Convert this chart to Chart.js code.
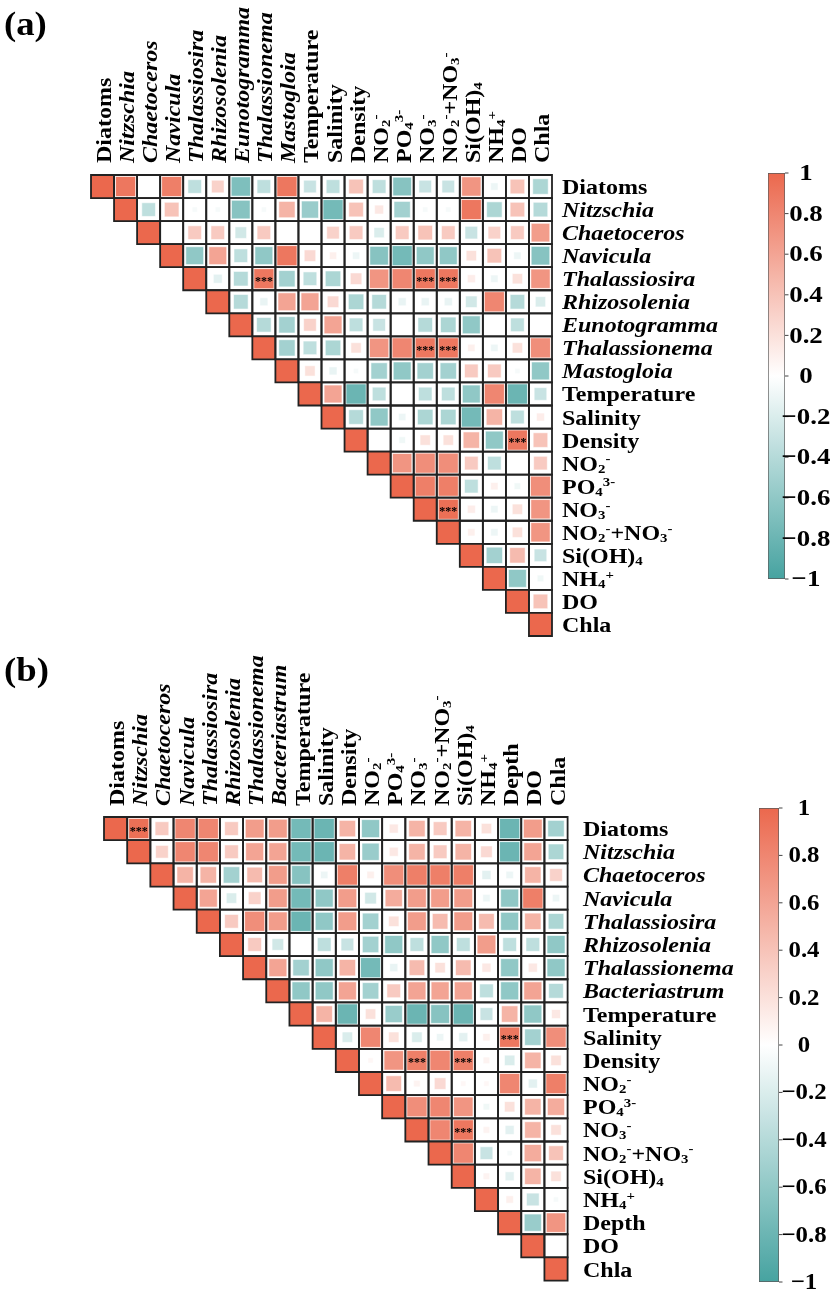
<!DOCTYPE html>
<html>
<head>
<meta charset="utf-8">
<script src="https://cdn.jsdelivr.net/npm/chart.js@4.4.1/dist/chart.umd.min.js"></script>
<style>
  html, body { margin: 0; padding: 0; background: #ffffff; }
  body { width: 837px; height: 1290px; position: relative; overflow: hidden; }
  canvas { position: absolute; }
</style>
</head>
<body>
<canvas id="heatA" width="837" height="645" style="left:0;top:0"></canvas>
<canvas id="heatB" width="837" height="645" style="left:0;top:645px"></canvas>
<canvas id="barA" width="137" height="460" style="left:700px;top:140px"></canvas>
<canvas id="barB" width="137" height="500" style="left:700px;top:790px"></canvas>
<script>
// ---------------- DATA ----------------
const labelsA = ['Diatoms','Nitzschia','Chaetoceros','Navicula','Thalassiosira','Rhizosolenia',
  'Eunotogramma','Thalassionema','Mastogloia','Temperature','Salinity','Density',
  'NO_{2}^{-}','PO_{4}^{3-}','NO_{3}^{-}','NO_{2}^{-}+NO_{3}^{-}','Si(OH)_{4}','NH_{4}^{+}','DO','Chla'];
const labelsB = ['Diatoms','Nitzschia','Chaetoceros','Navicula','Thalassiosira','Rhizosolenia',
  'Thalassionema','Bacteriastrum','Temperature','Salinity','Density',
  'NO_{2}^{-}','PO_{4}^{3-}','NO_{3}^{-}','NO_{2}^{-}+NO_{3}^{-}','Si(OH)_{4}','NH_{4}^{+}','Depth','DO','Chla'];
const genera = ['Nitzschia','Chaetoceros','Navicula','Thalassiosira','Rhizosolenia','Eunotogramma',
  'Thalassionema','Mastogloia','Bacteriastrum'];

// upper triangle, row i lists correlations for columns i..19
const corrA = [
  [1, 0.9, 0, 0.85, -0.35, 0.3, -0.7, -0.35, 0.9, -0.3, -0.35, 0.4, -0.35, -0.65, -0.3, -0.3, 0.7, -0.1, 0.4, -0.45],
  [1, -0.35, 0.4, -0.05, -0.05, -0.65, -0.05, 0.5, -0.55, -0.75, 0.4, 0.15, -0.5, -0.05, -0.05, 0.9, -0.45, 0.4, -0.4],
  [1, 0, 0.35, 0.35, -0.25, 0.35, 0, 0, 0.3, 0.35, -0.2, 0.35, 0.4, 0.35, -0.3, 0.3, 0.35, 0.65],
  [1, -0.6, 0.6, -0.35, -0.6, 0.9, 0.25, 0.1, -0.1, -0.65, -0.75, -0.6, -0.6, 0.2, 0.4, -0.1, -0.65],
  [1, -0.15, -0.4, 0.9, -0.5, -0.35, -0.45, 0.25, 0.7, 0.8, 0.9, 0.9, 0.12, -0.1, 0.2, 0.7],
  [1, -0.4, -0.12, 0.6, 0.6, 0.25, -0.45, -0.4, -0.12, -0.12, -0.12, -0.25, 0.8, -0.4, -0.2],
  [1, -0.4, -0.5, 0.3, 0.6, -0.35, -0.3, 0, -0.4, -0.45, -0.6, 0, -0.35, 0],
  [1, -0.5, -0.35, -0.45, 0.2, 0.7, 0.8, 0.9, 0.9, 0.1, -0.1, 0.2, 0.75],
  [1, 0.2, -0.12, -0.05, -0.5, -0.6, -0.5, -0.5, 0.35, 0.35, -0.05, -0.6],
  [1, 0.6, -0.8, -0.35, 0, -0.35, -0.35, -0.6, 0.8, -0.8, -0.3],
  [1, -0.4, -0.6, -0.1, -0.45, -0.45, -0.75, 0.5, -0.35, 0.12],
  [1, 0, -0.08, 0.2, 0.2, 0.5, -0.6, 0.9, 0.4],
  [1, 0.7, 0.75, 0.75, 0.35, -0.35, 0, 0.35],
  [1, 0.85, 0.85, -0.35, 0.1, -0.08, 0.75],
  [1, 0.95, 0.12, -0.1, 0.2, 0.7],
  [1, 0.1, -0.1, 0.2, 0.7],
  [1, -0.5, 0.45, -0.3],
  [1, -0.6, -0.08],
  [1, 0.4],
  [1]
];
const corrB = [
  [1, 0.95, 0.35, 0.8, 0.8, 0.35, 0.65, 0.65, -0.75, -0.8, 0.5, -0.6, 0.15, 0.5, 0.35, 0.5, 0.2, -0.8, 0.65, -0.5],
  [1, 0.3, 0.8, 0.8, 0.35, 0.6, 0.6, -0.75, -0.8, 0.5, -0.55, 0.15, 0.5, 0.35, 0.5, 0.25, -0.8, 0.6, -0.45],
  [1, 0.5, 0.5, -0.5, 0.45, 0.65, -0.65, -0.1, 0.85, 0.1, 0.75, 0.85, 0.85, 0.85, -0.15, -0.1, 0.5, 0.3],
  [1, 0.6, -0.2, 0.3, 0.65, -0.75, -0.6, 0.65, -0.25, 0.55, 0.65, 0.65, 0.65, -0.1, -0.6, 0.85, -0.1],
  [1, 0.35, 0.75, 0.65, -0.8, -0.6, 0.65, -0.5, 0.2, 0.65, 0.45, 0.65, 0.45, -0.6, 0.5, -0.45],
  [1, 0.35, -0.25, 0, -0.35, -0.3, -0.5, -0.6, -0.35, -0.6, -0.35, 0.65, -0.35, -0.35, -0.6],
  [1, 0.6, -0.5, -0.6, 0.5, -0.75, -0.12, 0.45, 0.2, 0.45, 0.15, -0.6, 0.15, -0.6],
  [1, -0.6, -0.6, 0.6, -0.5, 0.35, 0.6, 0.6, 0.6, -0.35, -0.6, 0.6, -0.4],
  [1, 0.5, -0.8, 0.2, -0.55, -0.8, -0.65, -0.8, -0.3, 0.5, -0.6, 0.15],
  [1, -0.2, 0.8, 0.2, -0.2, -0.1, -0.15, 0.1, 0.9, -0.5, 0.75],
  [1, 0.05, 0.7, 0.85, 0.8, 0.85, 0.08, -0.2, 0.5, 0.2],
  [1, 0.45, 0.08, 0.25, 0.05, 0.05, 0.8, -0.15, 0.85],
  [1, 0.75, 0.8, 0.7, -0.08, 0.2, 0.5, 0.55],
  [1, 0.8, 0.9, 0.08, -0.15, 0.5, 0.2],
  [1, 0.8, -0.3, -0.05, 0.55, 0.4],
  [1, 0.08, -0.15, 0.5, 0.2],
  [1, 0.1, -0.3, -0.05],
  [1, -0.55, 0.7],
  [1, 0],
  [1]
];
// significant pairs [row, column] marked ***
const starsA = [[4,7],[4,14],[4,15],[7,14],[7,15],[11,18],[14,15]];
const starsB = [[0,1],[9,17],[10,13],[10,15],[13,15]];

const cbTicks = [1, 0.8, 0.6, 0.4, 0.2, 0, -0.2, -0.4, -0.6, -0.8, -1];
const cbTickLabels = ['1','0.8','0.6','0.4','0.2','0','\u22120.2','\u22120.4','\u22120.6','\u22120.8','\u22121'];

// ---------------- STYLE ----------------
const FONT = '"Liberation Serif","Times New Roman",serif';
const RED = [235, 104, 77];
const TEAL = [70, 163, 160];
function colorFor(v) {
  const t = Math.min(1, Math.abs(v));
  const c = v >= 0 ? RED : TEAL;
  const r = Math.round(255 + (c[0] - 255) * t);
  const g = Math.round(255 + (c[1] - 255) * t);
  const b = Math.round(255 + (c[2] - 255) * t);
  return `rgb(${r},${g},${b})`;
}

function parseRich(s) {
  const out = []; const re = /([_^])\{([^}]*)\}/g; let last = 0, m;
  while ((m = re.exec(s))) {
    if (m.index > last) out.push({ t: s.slice(last, m.index), m: 0 });
    out.push({ t: m[2], m: m[1] === '_' ? 1 : 2 });
    last = re.lastIndex;
  }
  if (last < s.length) out.push({ t: s.slice(last), m: 0 });
  return out;
}
function drawRich(ctx, s, x, y, o) {
  const segs = parseRich(s);
  ctx.save();
  ctx.translate(x, y);
  if (o.rot) ctx.rotate(-Math.PI / 2);
  ctx.scale(o.sx, 1);
  ctx.fillStyle = '#000';
  ctx.textBaseline = 'alphabetic';
  ctx.textAlign = 'left';
  let cx = 0;
  segs.forEach(g => {
    const fs = g.m ? o.size * 0.62 : o.size;
    ctx.font = `${o.italic ? 'italic ' : ''}bold ${fs}px ${FONT}`;
    const dy = g.m === 1 ? o.size * 0.1 : (g.m === 2 ? -o.size * 0.36 : 0);
    ctx.fillText(g.t, cx, dy);
    cx += ctx.measureText(g.t).width;
  });
  ctx.restore();
}

function cellPx(chart) {
  const xs = chart.scales.x;
  return Math.abs(xs.getPixelForValue(1) - xs.getPixelForValue(0));
}

const heatLabelPlugin = {
  id: 'heatLabels',
  afterDraw(chart, args, o) {
    const ctx = chart.ctx;
    const xs = chart.scales.x, ys = chart.scales.y;
    o.labels.forEach((lab, i) => {
      const italic = genera.includes(lab);
      drawRich(ctx, lab, xs.getPixelForValue(i) + 8.5, o.headerBottom, { size: 20, sx: 1.2, italic, rot: true });
      drawRich(ctx, lab, o.rightX, ys.getPixelForValue(i) + 7.5, { size: 20, sx: 1.2, italic, rot: false });
    });
    ctx.save();
    ctx.fillStyle = '#000';
    ctx.font = `bold 12px ${FONT}`;
    ctx.textAlign = 'center';
    ctx.textBaseline = 'alphabetic';
    o.stars.forEach(([i, j]) => {
      ctx.fillText('***', xs.getPixelForValue(j), ys.getPixelForValue(i) + 6);
    });
    ctx.restore();
    drawRich(ctx, o.title, 4, o.titleY, { size: 34, sx: 1.08, italic: false, rot: false });
  }
};

function makeHeat(id, labels, rows, stars, grid, title, headerBottom, rightX, titleY) {
  const frames = [], squares = [];
  rows.forEach((row, i) => row.forEach((v, k) => {
    const j = i + k;
    frames.push({ x: j, y: i, v });
    if (j !== i) squares.push({ x: j, y: i, v });
  }));
  const W = 837, H = 645;
  return new Chart(document.getElementById(id), {
    type: 'scatter',
    data: {
      datasets: [
        {
          data: frames,
          order: 0,
          clip: false,
          pointStyle: 'rect',
          pointRadius: c => cellPx(c.chart) / Math.SQRT2,
          backgroundColor: c => (c.raw && c.raw.x === c.raw.y) ? colorFor(c.raw.v) : 'rgba(0,0,0,0)',
          borderColor: '#222222',
          borderWidth: 1.8
        },
        {
          data: squares,
          order: 1,
          clip: false,
          pointStyle: 'rect',
          pointRadius: c => {
            const cell = cellPx(c.chart);
            const v = c.raw ? Math.abs(c.raw.v) : 0;
            return Math.min(cell - 3, cell * Math.sqrt(v)) / Math.SQRT2;
          },
          backgroundColor: c => c.raw ? colorFor(c.raw.v) : 'white',
          borderColor: 'rgba(255,255,255,0.7)',
          borderWidth: 0.8
        }
      ]
    },
    options: {
      responsive: false,
      animation: false,
      events: [],
      layout: { padding: { left: grid.left, top: grid.top, right: W - grid.left - grid.size, bottom: H - grid.top - grid.size } },
      plugins: {
        legend: { display: false },
        tooltip: { enabled: false },
        heatLabels: { labels, stars, title, headerBottom, rightX, titleY }
      },
      scales: {
        x: { type: 'linear', min: -0.5, max: labels.length - 0.5, display: false },
        y: { type: 'linear', min: -0.5, max: labels.length - 0.5, reverse: true, display: false }
      }
    },
    plugins: [heatLabelPlugin]
  });
}

const cbPlugin = {
  id: 'cbLabels',
  afterDraw(chart, args, o) {
    const ctx = chart.ctx;
    const ys = chart.scales.y;
    const area = chart.chartArea;
    ctx.save();
    ctx.strokeStyle = '#444';
    ctx.lineWidth = 1;
    ctx.fillStyle = '#000';
    cbTicks.forEach((v, k) => {
      const y = ys.getPixelForValue(v);
      ctx.beginPath();
      ctx.moveTo(area.right, y);
      ctx.lineTo(area.right + 3.5, y);
      ctx.stroke();
      ctx.save();
      ctx.translate(o.cx, y);
      ctx.scale(o.sx, 1);
      ctx.font = `bold ${o.size}px ${FONT}`;
      ctx.textAlign = 'center';
      ctx.textBaseline = 'middle';
      ctx.fillText(cbTickLabels[k], 0, 1);
      ctx.restore();
    });
    ctx.restore();
  }
};

function makeBar(id, pad, cx, size, sx) {
  return new Chart(document.getElementById(id), {
    type: 'bar',
    data: {
      labels: ['r'],
      datasets: [{
        data: [[-1, 1]],
        barPercentage: 1,
        categoryPercentage: 1,
        borderSkipped: false,
        borderWidth: 1,
        borderColor: '#5a5a5a',
        backgroundColor: c => {
          const ch = c.chart;
          if (!ch.chartArea) return '#ffffff';
          const ys = ch.scales.y;
          const g = ch.ctx.createLinearGradient(0, ys.getPixelForValue(-1), 0, ys.getPixelForValue(1));
          for (let k = 0; k <= 20; k++) {
            const v = -1 + k * 0.1;
            g.addColorStop(k / 20, colorFor(v));
          }
          return g;
        }
      }]
    },
    options: {
      responsive: false,
      animation: false,
      events: [],
      layout: { padding: pad },
      plugins: { legend: { display: false }, tooltip: { enabled: false }, cbLabels: { cx, size, sx } },
      scales: {
        x: { display: false },
        y: { min: -1, max: 1, display: false }
      }
    },
    plugins: [cbPlugin]
  });
}

makeHeat('heatA', labelsA, corrA, starsA, { left: 91, top: 175, size: 461 }, '(a)', 163, 562, 35);
makeHeat('heatB', labelsB, corrB, starsB, { left: 104, top: 172, size: 463.6 }, '(b)', 161, 583, 36);
makeBar('barA', { left: 68, right: 52, top: 33, bottom: 21 }, 106, 24, 1.12);
makeBar('barB', { left: 59, right: 58, top: 18, bottom: 8 }, 104, 23, 1.08);
</script>
</body>
</html>
